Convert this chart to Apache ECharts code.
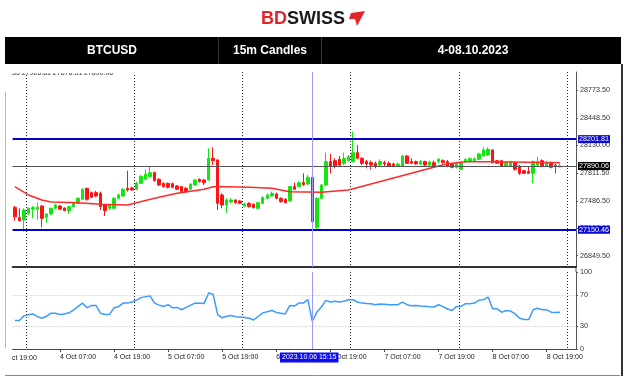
<!DOCTYPE html>
<html><head><meta charset="utf-8">
<script src="https://cdn.jsdelivr.net/npm/echarts@6/dist/echarts.min.js"></script>
<style>html,body{margin:0;padding:0;background:#fff}#c{width:624px;height:379px}</style>
</head><body><div id="c"></div>
<script>
// ---- data ----
const openP  = [27410,27291,27264,27341,27392,27388,27426,27295,27334,27399,27426,27403,27372,27419,27457,27504,27631,27581,27581,27573,27438,27399,27399,27515,27542,27631,27635,27620,27689,27736,27767,27813,27736,27689,27689,27685,27658,27651,27631,27620,27670,27736,27728,27728,27979,27960,27554,27438,27473,27496,27484,27426,27457,27446,27399,27457,27515,27542,27566,27515,27504,27484,27651,27651,27697,27681,27759,27179,27515,27670,27941,27952,27968,27921,27952,27941,28045,27979,27941,27929,27921,27902,27929,27921,27914,27890,27890,28006,27941,27941,27914,27941,27902,27929,27941,27952,27941,27914,27875,27852,27937,27945,27952,27968,28006,28018,28076,27952,27952,27890,27890,27929,27890,27836,27825,27805,27902,27952,27890,27929,27898,27880];
const closeP = [27300,27256,27380,27399,27407,27411,27283,27334,27399,27438,27388,27372,27419,27457,27515,27620,27504,27527,27542,27419,27372,27438,27515,27554,27620,27612,27612,27689,27767,27794,27813,27720,27670,27651,27643,27643,27620,27593,27593,27681,27728,27709,27697,27979,27952,27457,27438,27496,27496,27465,27457,27450,27419,27407,27465,27527,27554,27573,27515,27477,27465,27651,27620,27697,27674,27759,27245,27515,27670,27941,27883,27883,27902,27979,27998,28045,27979,27921,27914,27902,27883,27941,27914,27890,27890,27914,28006,27921,27921,27914,27941,27902,27937,27890,27968,27929,27890,27875,27921,27929,27968,27975,27972,28030,28076,28084,27929,27921,27890,27929,27929,27852,27805,27805,27805,27941,27941,27883,27929,27875,27883,27890];
const lowP   = [27256,27245,27129,27322,27283,27264,27179,27233,27322,27392,27380,27365,27334,27411,27450,27496,27488,27515,27527,27380,27310,27380,27392,27504,27535,27593,27604,27612,27681,27728,27759,27709,27658,27639,27631,27631,27612,27581,27581,27612,27658,27697,27670,27720,27902,27380,27399,27349,27457,27450,27446,27411,27407,27396,27388,27450,27504,27535,27504,27465,27457,27477,27612,27643,27658,27670,27233,27156,27504,27658,27805,27863,27883,27902,27941,27929,27968,27902,27863,27852,27863,27890,27890,27883,27875,27883,27883,27914,27914,27902,27902,27890,27883,27875,27921,27914,27875,27863,27863,27844,27929,27937,27945,27960,27998,28006,27921,27914,27883,27883,27883,27836,27786,27798,27798,27689,27890,27875,27883,27863,27805,27875];
const highP  = [27426,27399,27399,27411,27426,27465,27434,27341,27407,27450,27438,27411,27426,27465,27527,27631,27639,27593,27600,27593,27450,27450,27527,27573,27631,27836,27651,27709,27786,27852,27883,27825,27747,27697,27697,27697,27670,27658,27643,27689,27736,27747,27736,28095,28107,27968,27573,27515,27515,27504,27496,27465,27469,27457,27477,27535,27573,27593,27581,27527,27515,27658,27697,27709,27805,27786,27767,27527,27681,28045,28030,27979,28006,28045,28018,28290,28134,27991,27960,27952,27941,27968,27952,27941,27929,27929,28018,28018,27979,27952,27960,27952,27952,27952,27979,27968,27960,27929,27941,27941,27979,27991,27991,28045,28107,28107,28084,27960,27960,27941,27952,27941,27902,27844,27883,27952,27998,27968,27952,27941,27914,27914];
const rsiValues = [37,37,43,44.5,45.5,42,40,42.5,46.5,46.5,44.7,45.5,47,50.5,55,59.6,53.5,56.6,56.6,46.5,44.7,44.7,53.5,55,59.6,59.6,61,63.5,66.7,68,69,59.6,57,55.3,57.5,53.5,54,51,54,57,59.6,59.4,59.2,72.8,71,44.7,40.5,42.5,43.4,42,41.5,41,40,37.7,42.5,46.9,48.5,50,47.5,46.5,45.6,56.6,55.7,59.6,59.6,64,36,47.8,54.4,63.2,61,62,61,62,64,64,61,59.6,59.2,58.8,57.5,58.5,58.2,57.5,57.5,57.5,61,57.5,56.1,56.6,55.7,55.5,55,54.6,57.5,55,52,50,55.3,55.3,58.8,58.8,59.6,63.5,64,67.5,52.2,52.2,47.8,50,49.3,45.6,40,38.2,38.2,50.9,53,51,50.9,47.8,47.4,47.8];
const maPoints = [[0,27650],[3,27554],[6,27496],[8,27472],[14,27464],[19,27445],[25,27438],[27,27464],[31,27515],[36,27573],[42,27620],[44,27650],[47,27650],[52,27643],[57,27631],[61,27592],[68,27585],[74,27612],[94,27890],[96,27913],[98,27928],[100,27940],[106,27940],[121,27928]];
const priceTicks = [28773.50, 28448.50, 28130.00, 27811.50, 27486.50, 27168.00, 26849.50];
const rsiTicks = [0, 30, 70, 100];
const rsiLevels = [70, 30];
const levelHigh = 28201.81, levelLow = 27150.46, lastPrice = 27890.06;
const timeLabels = ['4 Oct 07:00','4 Oct 19:00','5 Oct 07:00','5 Oct 19:00','6 Oct 07:00','6 Oct 19:00','7 Oct 07:00','7 Oct 19:00','8 Oct 07:00','8 Oct 19:00'];
const daySeparators = ['4 Oct 00:00','5 Oct 00:00','6 Oct 00:00','7 Oct 00:00','8 Oct 00:00','9 Oct 00:00'];
const cursorTime = '6 Oct 15:00';
const cursorText = '2023.10.06 15:15';
const startDay = 3, startHour = 21, categoryCount = 125;
const categories = [];
for (let k = 0; k < categoryCount; k++) {
  const h = startHour + k;
  const d = startDay + Math.floor(h / 24);
  const hh = h % 24;
  categories.push(d + ' Oct ' + (hh < 10 ? '0' : '') + hh + ':00');
}
const candles = openP.map((o, i) => [o, closeP[i], lowP[i], highP[i]]);

const FONT = 'Liberation Sans, Arial, sans-serif';
const GREEN = '#13e613', RED = '#ff1414';
const chart = echarts.init(document.getElementById('c'), null, {renderer: 'canvas'});
const boxLabel = (txt, bg) => ({show: true, position: 'end', distance: 2, formatter: txt,
  backgroundColor: bg, color: '#fff', fontSize: 7.2, fontFamily: FONT, padding: [1, 1, 0, 1]});
const isSep = (i, v) => daySeparators.indexOf(v) >= 0;
const isLbl = (i, v) => timeLabels.indexOf(v) >= 0;
const GL = 12.6, GW = 563.4;

chart.setOption({
  animation: false,
  backgroundColor: '#fff',
  grid: [
    {left: GL, top: 72, width: GW, height: 195},
    {left: GL, top: 272, width: GW, height: 77}
  ],
  xAxis: [
    {type: 'category', gridIndex: 0, data: categories, boundaryGap: true,
     axisLine: {show: true, lineStyle: {color: '#333', width: 2}},
     axisTick: {show: false}, axisLabel: {show: false},
     splitLine: {show: true, interval: isSep, lineStyle: {color: '#222', width: 1, type: [1, 2]}}},
    {type: 'category', gridIndex: 1, data: categories, boundaryGap: true,
     axisLine: {show: true, lineStyle: {color: '#444', width: 1}},
     axisTick: {show: true, interval: isLbl, alignWithLabel: true, length: 3, lineStyle: {color: '#444'}},
     axisLabel: {show: true, interval: isLbl, align: 'left', margin: 5, fontSize: 7, fontFamily: FONT, color: '#222'},
     splitLine: {show: true, interval: isSep, lineStyle: {color: '#222', width: 1, type: [1, 2]}}}
  ],
  yAxis: [
    {type: 'value', gridIndex: 0, position: 'right', min: 26718.4, max: 28980.4,
     axisLine: {show: true, lineStyle: {color: '#555'}},
     axisTick: {show: true, length: 2, customValues: priceTicks, lineStyle: {color: '#555'}},
     axisLabel: {show: true, customValues: priceTicks, margin: 4, fontSize: 7.2, fontFamily: FONT, color: '#333',
       formatter: v => Number(v).toFixed(2)},
     splitLine: {show: false}},
    {type: 'value', gridIndex: 1, position: 'right', min: 0, max: 100,
     axisLine: {show: true, lineStyle: {color: '#555'}},
     axisTick: {show: true, length: 2, customValues: rsiTicks, lineStyle: {color: '#555'}},
     axisLabel: {show: true, customValues: rsiTicks, margin: 4, fontSize: 7.2, fontFamily: FONT, color: '#333'},
     splitLine: {show: false}}
  ],
  series: [
    {type: 'candlestick', xAxisIndex: 0, yAxisIndex: 0, data: candles, barWidth: 3,
     itemStyle: {color: GREEN, color0: RED, borderColor: GREEN, borderColor0: RED, borderWidth: 1},
     markLine: {symbol: ['none', 'none'], silent: true, animation: false,
       data: [
         {yAxis: levelHigh, lineStyle: {color: '#0000c8', width: 2, type: 'solid'}, label: boxLabel(levelHigh.toFixed(2), '#0a0ad2')},
         {yAxis: lastPrice, lineStyle: {color: '#555', width: 1, type: 'solid'}, label: boxLabel(lastPrice.toFixed(2), '#000')},
         {yAxis: levelLow, lineStyle: {color: '#0000c8', width: 2, type: 'solid'}, label: boxLabel(levelLow.toFixed(2), '#0a0ad2')},
         {xAxis: cursorTime, lineStyle: {color: '#9a9aff', width: 1, type: 'solid'}, label: {show: false}}
       ]}},
    {type: 'line', xAxisIndex: 0, yAxisIndex: 0, data: maPoints, showSymbol: false, symbol: 'none',
     lineStyle: {color: '#ff2a2a', width: 1.5}, z: 3},
    {type: 'line', xAxisIndex: 1, yAxisIndex: 1, data: rsiValues, showSymbol: false, symbol: 'none',
     lineStyle: {color: '#3a9cff', width: 1.5},
     markLine: {symbol: ['none', 'none'], silent: true, animation: false,
       data: rsiLevels.map(v => ({yAxis: v, lineStyle: {color: '#bbb', width: 1, type: [1, 2]}, label: {show: false}}))
         .concat([{xAxis: cursorTime, lineStyle: {color: '#9a9aff', width: 1, type: 'solid'}, label: {show: false}}])}}
  ],
  graphic: [
    {type: 'text', x: 261, y: 19, style: {rich: {a: {fill: '#e3222a', fontSize: 18, fontWeight: 'bold', fontFamily: FONT}, b: {fill: '#1a1a1a', fontSize: 18, fontWeight: 'bold', fontFamily: FONT}}, text: '{a|BD}{b|SWISS}', verticalAlign: 'middle'}},
    {type: 'polygon', shape: {points: [[351, 13], [365, 11], [357, 26], [355, 19], [349, 19]]}, style: {fill: '#e3222a'}},
    {type: 'rect', shape: {x: 5, y: 37, width: 616, height: 27}, style: {fill: '#000'}},
    {type: 'line', shape: {x1: 218.5, y1: 37, x2: 218.5, y2: 64}, style: {stroke: '#333', lineWidth: 1}},
    {type: 'line', shape: {x1: 321.5, y1: 37, x2: 321.5, y2: 64}, style: {stroke: '#333', lineWidth: 1}},
    {type: 'text', x: 112, y: 50.5, style: {text: 'BTCUSD', fill: '#fff', fontSize: 12, fontWeight: 'bold', fontFamily: FONT, align: 'center', verticalAlign: 'middle'}},
    {type: 'text', x: 270, y: 50.5, style: {text: '15m Candles', fill: '#fff', fontSize: 12, fontWeight: 'bold', fontFamily: FONT, align: 'center', verticalAlign: 'middle'}},
    {type: 'text', x: 473, y: 50.5, style: {text: '4-08.10.2023', fill: '#fff', fontSize: 12, fontWeight: 'bold', fontFamily: FONT, align: 'center', verticalAlign: 'middle'}},
    {type: 'text', x: 12, y: 77, z: 50, style: {text: '35 27926.81 27876.31 27890.06', fill: '#333', fontSize: 7, fontFamily: FONT, verticalAlign: 'bottom'}},
    {type: 'rect', z: 51, shape: {x: 10, y: 64.5, width: 130, height: 8.5}, style: {fill: '#fff'}},
    {type: 'text', x: 12, y: 358, style: {text: 'ct 19:00', fill: '#222', fontSize: 7, fontFamily: FONT, verticalAlign: 'middle'}},
    {type: 'text', x: 280, y: 357.5, z: 60, style: {text: cursorText, fill: '#fff', backgroundColor: '#0c0cf0', padding: [2, 2, 1, 2], fontSize: 7, fontFamily: FONT, verticalAlign: 'middle'}},
    {type: 'line', shape: {x1: 576, y1: 267, x2: 576, y2: 272}, style: {stroke: '#555', lineWidth: 1}},
    {type: 'line', shape: {x1: 5, y1: 375.5, x2: 620, y2: 375.5}, style: {stroke: '#888', lineWidth: 1}},
    {type: 'line', shape: {x1: 622, y1: 64, x2: 622, y2: 376}, style: {stroke: '#333', lineWidth: 2}},
    {type: 'line', shape: {x1: 5.5, y1: 92, x2: 5.5, y2: 348}, style: {stroke: '#bbb', lineWidth: 1}}
  ]
});
</script></body></html>
